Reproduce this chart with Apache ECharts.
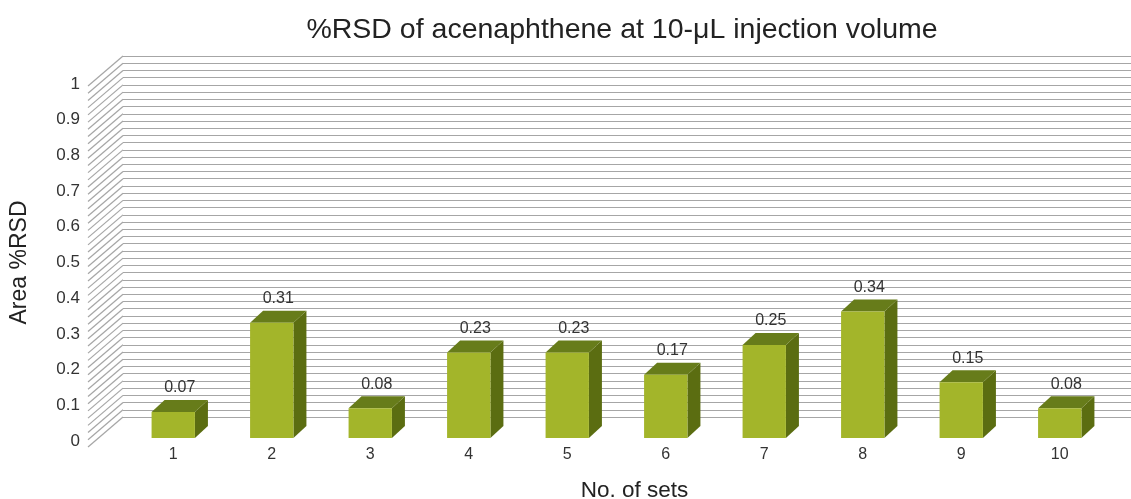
<!DOCTYPE html>
<html>
<head>
<meta charset="utf-8">
<style>
  html, body { margin: 0; padding: 0; background: #fff; }
  #chart { width: 1131px; height: 499px; }
</style>
<script src="https://cdn.jsdelivr.net/npm/echarts@6/dist/echarts.min.js"></script>
</head>
<body>
<div id="chart"></div>
<script>
// data
var categories = ['1', '2', '3', '4', '5', '6', '7', '8', '9', '10'];
var rsdValues = [0.07, 0.31, 0.08, 0.23, 0.23, 0.17, 0.25, 0.34, 0.15, 0.08];
var wallStep = 0.02; // spacing of the wall lines
var labelStep = 0.1; // spacing of the tick labels

var fontName = '"Liberation Sans", Arial, sans-serif';
var lineColor = '#a6a6a6';
var depthX = 13, depthY = -12; // bar depth offset
var wallX = -35, wallY = 30;   // side wall, back to front

// side wall lines drawn from the back wall's own y axis
function renderWall(params, api) {
	var left = params.coordSys.x;
	var n = Math.round(1 / wallStep);
	var children = [];
	for (var k = 0; k <= n; k++) {
		var y = api.coord([0, k * wallStep])[1];
		children.push({
			type: 'line',
			shape: { x1: left, y1: y, x2: left + wallX, y2: y + wallY },
			style: { stroke: lineColor, lineWidth: 1.2 }
		});
	}
	return { type: 'group', children: children, silent: true };
}

// 3d looking bar: front, top and side faces + value label
function renderBar(params, api) {
	var v = api.value(1);
	var top = api.coord([api.value(0), v]);
	var base = api.coord([api.value(0), 0]);
	var w = api.size([1, 0])[0] * 0.44;
	var x0 = top[0] - w / 2, x1 = top[0] + w / 2;
	var t = top[1], b = base[1];
	return {
		type: 'group',
		children: [{
			type: 'polygon',
			shape: { points: [[x1, t], [x1 + depthX, t + depthY], [x1 + depthX, b + depthY], [x1, b]] },
			style: { fill: '#5b6d11' }
		}, {
			type: 'polygon',
			shape: { points: [[x0, t], [x0 + depthX, t + depthY], [x1 + depthX, t + depthY], [x1, t]] },
			style: { fill: '#677c1a' }
		}, {
			type: 'rect',
			shape: { x: x0, y: t, width: w, height: b - t },
			style: { fill: '#a3b52a' }
		}, {
			type: 'text',
			x: top[0] + depthX / 2,
			y: t + depthY - 4,
			style: {
				text: String(v),
				fill: '#333',
				font: '16px ' + fontName,
				textAlign: 'center',
				textVerticalAlign: 'bottom'
			}
		}]
	};
}

var myChart = echarts.init(document.getElementById('chart'));
var option = {
	animation: false,
	backgroundColor: '#fff',
	title: {
		text: '%RSD of acenaphthene at 10-μL injection volume',
		left: 617,
		top: 11,
		textAlign: 'center',
		textStyle: { fontFamily: fontName, fontSize: 28.5, fontWeight: 'normal', color: '#222' }
	},
	grid: [
		{ left: 123, right: 0, top: 56, bottom: 82, outerBoundsMode: 'none' },  // back wall
		{ left: 124, right: 22, top: 66, bottom: 61, outerBoundsMode: 'none' }, // bars
		{ left: 88, right: 0, top: 84, bottom: 58, outerBoundsMode: 'none' }    // tick labels
	],
	xAxis: [{
		gridIndex: 0, type: 'category', data: categories, show: false
	}, {
		gridIndex: 1, type: 'category', data: categories,
		axisLine: { show: false }, axisTick: { show: false },
		axisLabel: { fontFamily: fontName, fontSize: 16, color: '#333', margin: 9 },
		name: 'No. of sets', nameLocation: 'middle', nameGap: 41,
		nameTextStyle: { fontFamily: fontName, fontSize: 22.5, color: '#222', padding: [0, 0, 0, 36] }
	}, {
		gridIndex: 2, type: 'category', data: categories, show: false
	}],
	yAxis: [{
		gridIndex: 0, type: 'value', min: 0, max: 1, interval: wallStep,
		axisLine: { show: false }, axisTick: { show: false }, axisLabel: { show: false },
		splitLine: { show: true, lineStyle: { color: lineColor, width: 1.2 } }
	}, {
		gridIndex: 1, type: 'value', min: 0, max: 1, show: false
	}, {
		gridIndex: 2, type: 'value', min: 0, max: 1, interval: labelStep,
		axisLine: { show: false }, axisTick: { show: false }, splitLine: { show: false },
		axisLabel: { fontFamily: fontName, fontSize: 17, color: '#333', margin: 8 },
		name: 'Area %RSD', nameLocation: 'middle', nameGap: 57,
		nameTextStyle: { fontFamily: fontName, fontSize: 23, color: '#222' }
	}],
	series: [{
		type: 'custom',
		xAxisIndex: 0,
		yAxisIndex: 0,
		renderItem: renderWall,
		data: [[0, 0]],
		z: 1
	}, {
		type: 'custom',
		xAxisIndex: 1,
		yAxisIndex: 1,
		renderItem: renderBar,
		encode: { x: 0, y: 1 },
		data: rsdValues.map(function(v, i) { return [i, v]; }),
		z: 3
	}]
};
myChart.setOption(option);
window.onresize = myChart.resize;
</script>
</body>
</html>
